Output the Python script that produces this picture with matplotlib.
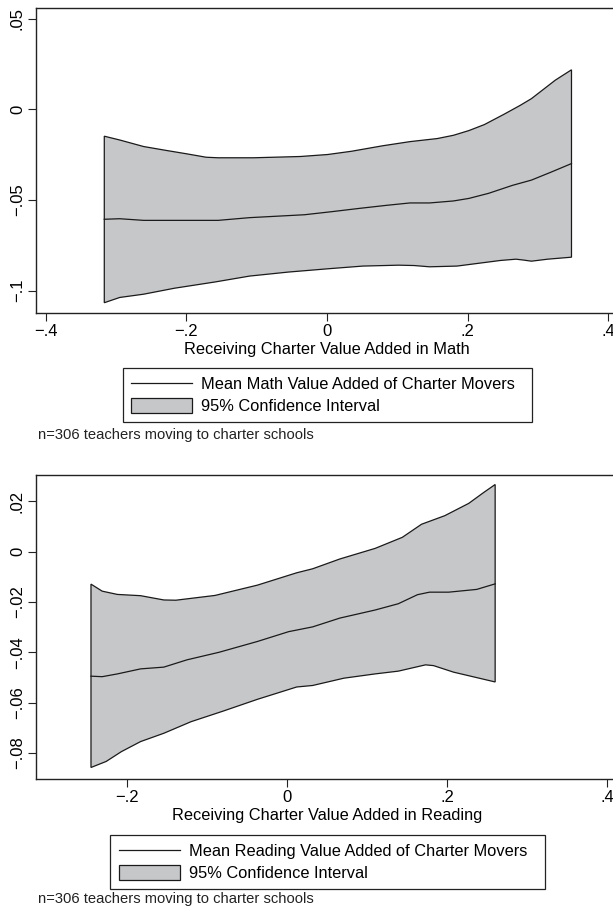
import matplotlib.pyplot as plt
from matplotlib.lines import Line2D
from matplotlib.patches import Patch

plt.rcParams["font.family"] = ["Liberation Sans", "DejaVu Sans"]

# math panel: local mean and 95% CI against receiving charter VA
math_x_upper = [-0.317, -0.295, -0.261, -0.228, -0.200, -0.172, -0.155, -0.105, -0.038, 0.001,
                0.035, 0.079, 0.118, 0.157, 0.180, 0.202, 0.224, 0.252, 0.275, 0.291,
                0.308, 0.325, 0.348]
math_upper = [-0.0148, -0.0169, -0.0205, -0.0227, -0.0245, -0.0264, -0.0267, -0.0267, -0.0260, -0.0249,
              -0.0231, -0.0201, -0.0178, -0.0161, -0.0143, -0.0117, -0.0084, -0.0027, 0.0022, 0.0059,
              0.0110, 0.0161, 0.0218]
math_x_mean = [-0.317, -0.295, -0.261, -0.217, -0.155, -0.110, -0.066, -0.032, 0.007, 0.046,
               0.085, 0.118, 0.146, 0.180, 0.202, 0.230, 0.264, 0.291, 0.319, 0.348]
math_mean = [-0.0606, -0.0603, -0.0612, -0.0612, -0.0612, -0.0597, -0.0588, -0.0581, -0.0564, -0.0546,
             -0.0529, -0.0516, -0.0516, -0.0505, -0.0491, -0.0463, -0.0419, -0.0390, -0.0346, -0.0299]
math_x_lower = [-0.317, -0.295, -0.261, -0.217, -0.160, -0.110, -0.055, 0.001, 0.051, 0.102,
                0.124, 0.146, 0.185, 0.213, 0.247, 0.269, 0.280, 0.291, 0.314, 0.348]
math_lower = [-0.1066, -0.1037, -0.1019, -0.0986, -0.0952, -0.0919, -0.0897, -0.0879, -0.0864, -0.0859,
              -0.0861, -0.0868, -0.0864, -0.0850, -0.0833, -0.0826, -0.0831, -0.0837, -0.0826, -0.0815]

# reading panel
read_x_upper = [-0.245, -0.231, -0.212, -0.183, -0.154, -0.139, -0.090, -0.037, 0.012, 0.032,
                0.066, 0.110, 0.144, 0.168, 0.197, 0.227, 0.246, 0.260]
read_upper = [-0.0129, -0.0157, -0.0170, -0.0175, -0.0192, -0.0193, -0.0174, -0.0133, -0.0084, -0.0068,
              -0.0029, 0.0013, 0.0057, 0.0109, 0.0143, 0.0192, 0.0236, 0.0267]
read_x_mean = [-0.245, -0.231, -0.212, -0.183, -0.154, -0.125, -0.085, -0.037, 0.002, 0.032,
               0.066, 0.110, 0.139, 0.163, 0.178, 0.202, 0.237, 0.260]
read_mean = [-0.0495, -0.0497, -0.0486, -0.0466, -0.0459, -0.0430, -0.0400, -0.0357, -0.0318, -0.0299,
             -0.0264, -0.0232, -0.0207, -0.0171, -0.0161, -0.0161, -0.0150, -0.0128]
read_x_lower = [-0.245, -0.226, -0.207, -0.183, -0.154, -0.120, -0.080, -0.037, 0.012, 0.032,
                0.071, 0.110, 0.139, 0.173, 0.183, 0.208, 0.260]
read_lower = [-0.0858, -0.0834, -0.0795, -0.0755, -0.0722, -0.0676, -0.0634, -0.0587, -0.0538, -0.0532,
              -0.0503, -0.0486, -0.0475, -0.0450, -0.0453, -0.0479, -0.0518]

math_xticks = [-0.4, -0.2, 0, 0.2, 0.4]
math_xlabels = ["\u2212.4", "\u2212.2", "0", ".2", ".4"]
math_yticks = [0.05, 0, -0.05, -0.1]
math_ylabels = [".05", "0", "\u2212.05", "\u2212.1"]
read_xticks = [-0.2, 0, 0.2, 0.4]
read_xlabels = ["\u2212.2", "0", ".2", ".4"]
read_yticks = [0.02, 0, -0.02, -0.04, -0.06, -0.08]
read_ylabels = [".02", "0", "\u2212.02", "\u2212.04", "\u2212.06", "\u2212.08"]

FILL = "#c6c7c9"
INK = "#1a1a1a"
W, H = 613, 909


def band_polygon(xu, yu, xl, yl):
    xs = list(xu) + list(reversed(xl))
    ys = list(yu) + list(reversed(yl))
    return xs, ys


def draw_panel(ax, xu, yu, xm, ym, xl, yl, xlim, ylim, xt, xtl, yt, ytl, xlabel):
    xs, ys = band_polygon(xu, yu, xl, yl)
    ax.fill(xs, ys, facecolor=FILL, edgecolor=INK, linewidth=0.9, zorder=2)
    ax.plot(xm, ym, color=INK, linewidth=0.9, zorder=3)
    ax.set_xlim(*xlim)
    ax.set_ylim(*ylim)
    ax.set_xticks(xt)
    ax.set_xticklabels(xtl)
    ax.set_yticks(yt)
    ax.set_yticklabels(ytl, rotation=90, va="center")
    ax.tick_params(direction="out", length=6, width=0.8, labelsize=12, pad=2, color="#222222")
    for s in ax.spines.values():
        s.set_linewidth(1.0)
        s.set_color("#222222")
    ax.set_xlabel(xlabel, fontsize=11.8, labelpad=2)


fig = plt.figure(figsize=(W / 100, H / 100), dpi=100)

ax1 = fig.add_axes([36 / W, 1 - 312.7 / H, 582 / W, 304.4 / H])
draw_panel(ax1, math_x_upper, math_upper, math_x_mean, math_mean, math_x_lower, math_lower,
           (-0.4142, 0.4142), (-0.1121, 0.0557), math_xticks, math_xlabels,
           math_yticks, math_ylabels, "Receiving Charter Value Added in Math")

ax2 = fig.add_axes([36 / W, 1 - 779.3 / H, 582 / W, 304.6 / H])
draw_panel(ax2, read_x_upper, read_upper, read_x_mean, read_mean, read_x_lower, read_lower,
           (-0.3137, 0.4135), (-0.0905, 0.0306), read_xticks, read_xlabels,
           read_yticks, read_ylabels, "Receiving Charter Value Added in Reading")


def add_legend(label, top_px):
    handles = [Line2D([0], [0], color=INK, linewidth=0.9),
               Patch(facecolor=FILL, edgecolor=INK, linewidth=0.9)]
    # Stata leaves extra room right of the text, hence the padding spaces
    leg = fig.legend(handles, [label + "  ", "95% Confidence Interval"], loc="upper center",
                     bbox_to_anchor=(327.5 / W, 1 - top_px / H), fontsize=11.8,
                     fancybox=False, framealpha=1, edgecolor="#222222",
                     handlelength=3.75, handleheight=1.0, handletextpad=0.55,
                     borderpad=0.5, labelspacing=0.36, borderaxespad=0)
    leg.get_frame().set_linewidth(0.9)
    return leg


add_legend("Mean Math Value Added of Charter Movers", 368)
add_legend("Mean Reading Value Added of Charter Movers", 835)

fig.text(38 / W, 1 - 435 / H, "n=306 teachers moving to charter schools", fontsize=10.6,
         va="center", ha="left", color="#222222")
fig.text(38 / W, 1 - 899 / H, "n=306 teachers moving to charter schools", fontsize=10.6,
         va="center", ha="left", color="#222222")

fig.savefig("out.png", dpi=100)
